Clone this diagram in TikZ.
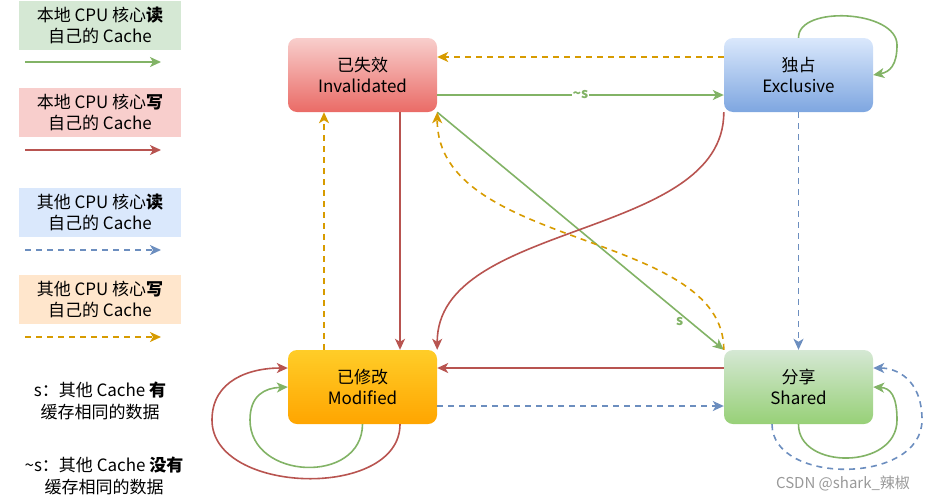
\documentclass[tikz,border=0pt]{standalone}
\usepackage{fontspec}
\setmainfont{Noto Sans CJK SC}
\usetikzlibrary{arrows.meta}
\definecolor{gE}{HTML}{82B366}
\definecolor{rE}{HTML}{B85450}
\definecolor{bE}{HTML}{6C8EBF}
\definecolor{oE}{HTML}{D79B00}
\definecolor{fG}{HTML}{D5E8D4}
\definecolor{fR}{HTML}{F8CECC}
\definecolor{fB}{HTML}{DAE8FC}
\definecolor{fO}{HTML}{FFE6CC}
\definecolor{dR}{HTML}{EA6B66}
\definecolor{dB}{HTML}{7EA6E0}
\definecolor{tY}{HTML}{FFCD28}
\definecolor{dY}{HTML}{FFA500}
\definecolor{dG}{HTML}{97D077}
\begin{document}
\begin{tikzpicture}[x=1pt,y=-1pt,
  st/.style={rounded corners=9pt,minimum width=149pt,minimum height=74pt,align=center,font=\fontsize{17}{21}\selectfont,inner sep=0pt},
  lg/.style={minimum width=162pt,minimum height=49pt,align=center,font=\fontsize{17}{21}\selectfont,inner sep=0pt},
  tx/.style={align=center,font=\fontsize{17}{22}\selectfont},
  e/.style={line width=1.6pt,-{Stealth[length=11pt,width=10pt,inset=3pt]}},
  g/.style={e,gE},r/.style={e,rE},
  b/.style={e,bE,dash pattern=on 6pt off 5pt},
  o/.style={e,oE,dash pattern=on 6pt off 5pt}]
\useasboundingbox (0,0) rectangle (925,501);
% legend
\node[lg,fill=fG] (l1) at (100,25.5) {本地 CPU 核心\textbf{读}\\自己的 Cache};
\coordinate (l1a) at (25,62); \coordinate (l1b) at (161,62);
\draw[g] (l1a) -- (l1b);
\node[lg,fill=fR] (l2) at (100,112.5) {本地 CPU 核心\textbf{写}\\自己的 Cache};
\coordinate (l2a) at (25,150); \coordinate (l2b) at (161,150);
\draw[r] (l2a) -- (l2b);
\node[lg,fill=fB] (l3) at (100,212.5) {其他 CPU 核心\textbf{读}\\自己的 Cache};
\coordinate (l3a) at (25,250); \coordinate (l3b) at (161,250);
\draw[b] (l3a) -- (l3b);
\node[lg,fill=fO] (l4) at (100,299.5) {其他 CPU 核心\textbf{写}\\自己的 Cache};
\coordinate (l4a) at (25,337); \coordinate (l4b) at (161,337);
\draw[o] (l4a) -- (l4b);
\node[tx] (n1) at (100,401) {s：其他 Cache \textbf{有}\\缓存相同的数据};
\node[tx] (n2) at (104,476) {\textasciitilde s：其他 Cache \textbf{没有}\\缓存相同的数据};
% states
\node[st,top color=fR,bottom color=dR] (I) at (362.5,75) {已失效\\Invalidated};
\node[st,top color=fB,bottom color=dB] (E) at (798.5,75) {独占\\Exclusive};
\node[st,top color=tY,bottom color=dY] (M) at (362.5,387) {已修改\\Modified};
\node[st,top color=fG,bottom color=dG] (S) at (798.5,387) {分享\\Shared};
% edges
\draw[o] (E.west|-0,57) -- (I.east|-0,57);
\draw[g] (I.east|-0,95) -- node[pos=0.5,font=\fontsize{14}{14}\selectfont\bfseries,fill=white,inner sep=1pt]{\textasciitilde s} (E.west|-0,95);
\draw[g] (I.south east) -- node[pos=0.88,font=\fontsize{14}{14}\selectfont\bfseries,left=2pt]{s} (S.north west);
\draw[o] (S.north west) .. controls (724,230) and (437,250) .. (I.south east);
\draw[r] (E.south west) .. controls (724,240) and (437,220) .. (M.north east);
\draw[o] (M.north-|324,0) -- (I.south-|324,0);
\draw[r] (I.south-|400,0) -- (M.north-|400,0);
\draw[r] (S.west|-0,368) -- (M.east|-0,368);
\draw[b] (M.east|-0,406) -- (S.west|-0,406);
\draw[b] (E.south) -- (S.north);
% loops
\draw[g] (E.north) .. controls (798,5) and (897,10) .. (897,45) .. controls (897,65) and (890,72) .. (E.east|-0,75);
\draw[g] (S.south) .. controls (798,470) and (897,470) .. (897,420) .. controls (897,395) and (890,388) .. (S.east|-0,387);
\draw[b] (S.south-|772,0) .. controls (772,485) and (922,485) .. (922,420) .. controls (922,378) and (895,368) .. (S.east|-0,368);
\draw[g] (M.south) .. controls (362,485) and (250,480) .. (250,420) .. controls (250,395) and (265,388) .. (M.west|-0,387);
\draw[r] (M.south-|400,0) .. controls (400,500) and (212,495) .. (212,420) .. controls (212,380) and (250,368) .. (M.west|-0,368);
\node[font=\fontsize{15}{15}\selectfont,text=black!40] (wm) at (843,483) {CSDN @shark\_辣椒};
\end{tikzpicture}
\end{document}
